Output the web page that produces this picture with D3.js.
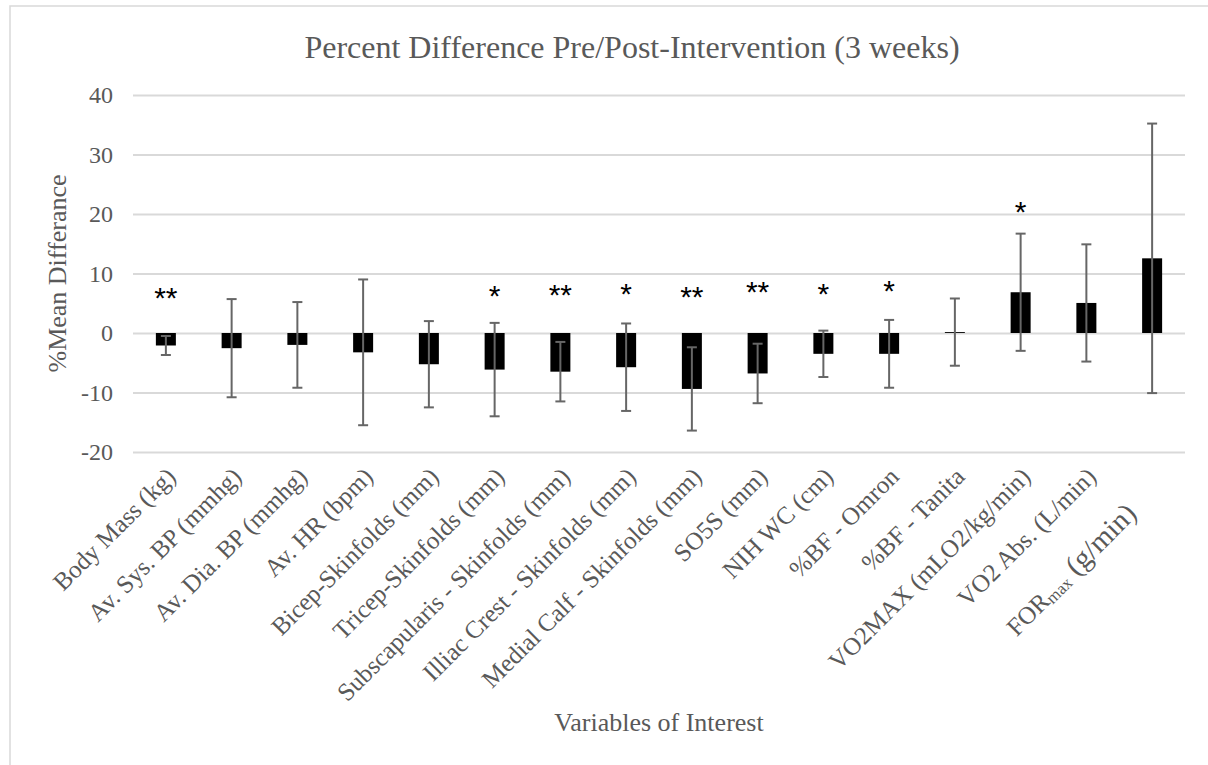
<!DOCTYPE html>
<html>
<head>
<meta charset="utf-8">
<script src="https://cdn.jsdelivr.net/npm/d3@7"></script>
<style>
  html, body { margin: 0; padding: 0; background: #fff; }
  svg { display: block; }
</style>
</head>
<body>
<script>
// Variables measured before and after the 3-week intervention
const categories = [
  "Body Mass (kg)", "Av. Sys. BP (mmhg)", "Av. Dia. BP (mmhg)", "Av. HR (bpm)",
  "Bicep-Skinfolds (mm)", "Tricep-Skinfolds (mm)", "Subscapularis - Skinfolds (mm)",
  "Illiac Crest - Skinfolds (mm)", "Medial Calf - Skinfolds (mm)", "SO5S (mm)",
  "NIH WC (cm)", "%BF - Omron", "%BF - Tanita", "VO2MAX (mLO2/kg/min)",
  "VO2 Abs. (L/min)", "FORmax (g/min)"
];
// Mean percent difference and its spread (error bar half-length)
const meanDiff = [-2.1, -2.55, -2.0, -3.25, -5.25, -6.15, -6.5, -5.75, -9.4, -6.8, -3.5, -3.5, 0.15, 6.85, 5.05, 12.55];
const errorSize = [1.6, 8.25, 7.2, 12.25, 7.25, 7.85, 5.0, 7.35, 7.0, 5.0, 3.9, 5.7, 5.65, 9.85, 9.85, 22.65];
// Significance markers and the level at which each is printed
const significance = ["**", "", "", "", "", "*", "**", "*", "**", "**", "*", "*", "", "*", "", ""];
const markerLevel = [7.0, null, null, null, null, 7.3, 7.5, 7.7, 7.2, 8.0, 7.7, 8.2, null, 21.4, null, null];
const yTicks = [-20, -10, 0, 10, 20, 30, 40];

const W = 1208, H = 765;
const plot = { left: 133, right: 1185, top: 95, bottom: 452 };
const textGray = "#595959";
const serif = "'Liberation Serif', 'Times New Roman', serif";

const svg = d3.select("body").append("svg").attr("width", W).attr("height", H);

// chart frame
svg.append("path")
  .attr("d", `M10,${H + 5} L10,6 L${W + 5},6`)
  .attr("fill", "none").attr("stroke", "#d9d9d9").attr("stroke-width", 1.5);

const x = d3.scaleBand().domain(categories).range([plot.left, plot.right]).paddingInner(0).paddingOuter(0);
const y = d3.scaleLinear().domain([-20, 40]).range([plot.bottom, plot.top]);
const barW = 20;

// gridlines + tick labels
const yAxis = d3.axisLeft(y).tickValues(yTicks).tickFormat(d => String(d))
  .tickSize(-(plot.right - plot.left)).tickPadding(20);
const gy = svg.append("g").attr("transform", `translate(${plot.left},0)`).call(yAxis);
gy.select(".domain").remove();
gy.selectAll(".tick line").attr("stroke", "#d9d9d9").attr("stroke-width", 2);
gy.selectAll(".tick text")
  .attr("fill", textGray).attr("font-family", serif).attr("font-size", 24);

// bars
const data = categories.map((c, i) => ({ c, v: meanDiff[i], e: errorSize[i], s: significance[i], m: markerLevel[i] }));
const cx = d => x(d.c) + x.bandwidth() / 2;

svg.append("g").selectAll("rect").data(data).join("rect")
  .attr("x", d => cx(d) - barW / 2)
  .attr("width", barW)
  .attr("y", d => y(Math.max(0, d.v)))
  .attr("height", d => Math.abs(y(d.v) - y(0)))
  .attr("fill", "#000");

// error bars
const eg = svg.append("g").attr("stroke", "#666").attr("stroke-width", 2).attr("fill", "none");
const cap = 5;
data.forEach(d => {
  const yTop = y(d.v + d.e), yBot = y(d.v - d.e);
  eg.append("line").attr("x1", cx(d)).attr("x2", cx(d)).attr("y1", yTop).attr("y2", yBot);
  eg.append("line").attr("x1", cx(d) - cap).attr("x2", cx(d) + cap).attr("y1", yTop).attr("y2", yTop);
  eg.append("line").attr("x1", cx(d) - cap).attr("x2", cx(d) + cap).attr("y1", yBot).attr("y2", yBot);
});

// significance markers
svg.append("g").selectAll("text").data(data.filter(d => d.s)).join("text")
  .attr("x", d => cx(d))
  .attr("y", d => y(d.m))
  .attr("dy", "0.55em")
  .attr("text-anchor", "middle")
  .attr("font-family", "'Liberation Sans', Arial, sans-serif")
  .attr("font-size", 30)
  .attr("fill", "#000")
  .text(d => d.s);

// category labels, rotated
const lg = svg.append("g").attr("fill", textGray).attr("font-family", serif).attr("font-size", 25);
data.forEach((d, i) => {
  const t = lg.append("text")
    .attr("text-anchor", "end")
    .attr("dy", "0.35em")
    .attr("transform", `translate(${cx(d) + 5},${472}) rotate(-45)`);
  if (d.c.startsWith("FORmax")) {
    t.attr("dx", -44).attr("dy", "0.7em");
    t.append("tspan").text("FOR");
    t.append("tspan").attr("font-size", 17).attr("dy", "0.15em").text("max");
    t.append("tspan").attr("font-size", 29).attr("dy", "-0.1em").text(" (g/min)");
  } else {
    t.text(d.c);
  }
});

// titles
svg.append("text")
  .attr("x", 632).attr("y", 58)
  .attr("text-anchor", "middle")
  .attr("font-family", serif).attr("font-size", 32).attr("fill", textGray)
  .text("Percent Difference Pre/Post-Intervention (3 weeks)");

svg.append("text")
  .attr("x", (plot.left + plot.right) / 2).attr("y", 731)
  .attr("text-anchor", "middle")
  .attr("font-family", serif).attr("font-size", 26).attr("fill", textGray)
  .text("Variables of Interest");

svg.append("text")
  .attr("transform", `translate(66,${(plot.top + plot.bottom) / 2}) rotate(-90)`)
  .attr("text-anchor", "middle")
  .attr("font-family", serif).attr("font-size", 26).attr("fill", textGray)
  .text("%Mean Differance");
</script>
</body>
</html>
